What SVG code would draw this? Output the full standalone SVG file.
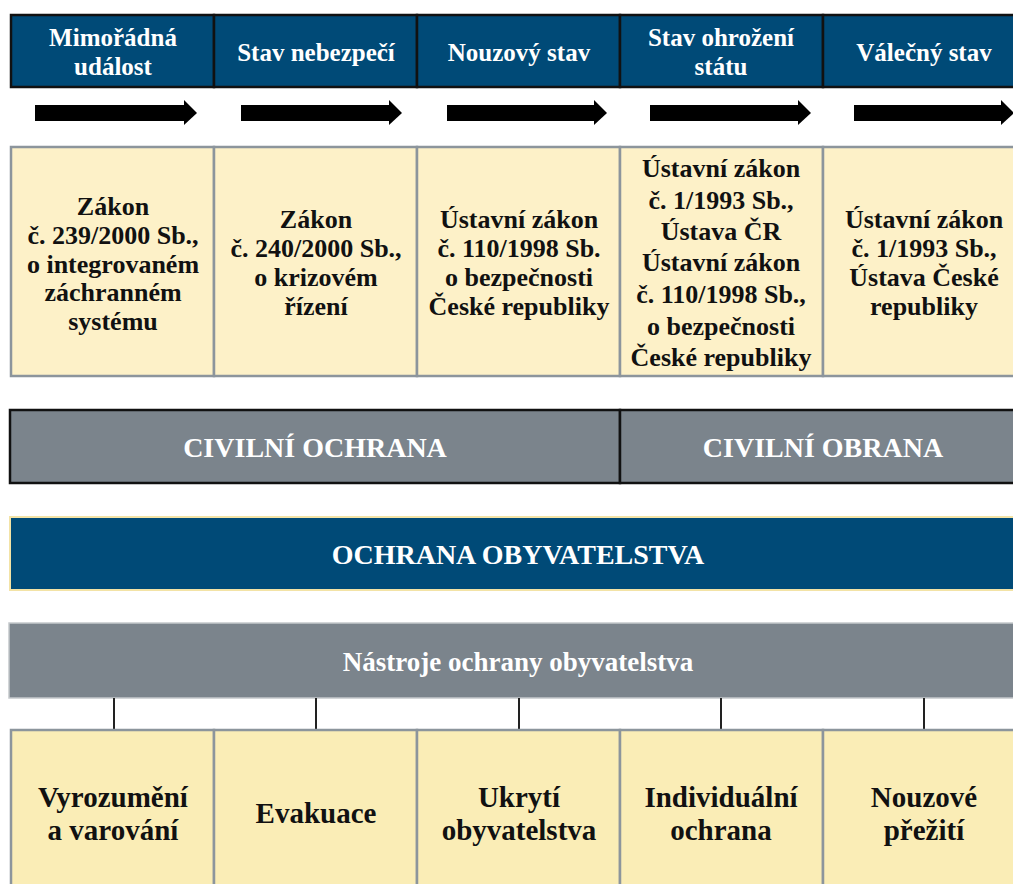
<svg xmlns="http://www.w3.org/2000/svg" width="1013" height="884" viewBox="0 0 1013 884">
<style>
  text { font-family: "Liberation Serif", "DejaVu Serif", serif; font-weight: bold; text-anchor: middle; }
  .hdr { fill: #004a77; stroke: #111; stroke-width: 2.5; }
  .hdrt { fill: #fff; font-size: 25px; }
  .law { fill: #fdf1c8; stroke: #8c959c; stroke-width: 2.5; }
  .lawt { fill: #111; font-size: 26px; }
  .civ { fill: #7b848c; stroke: #111; stroke-width: 2.5; }
  .bart { fill: #fff; font-size: 28px; }
  .ochr { fill: #004a77; stroke: #f3e3a6; stroke-width: 2; }
  .nas { fill: #7b848c; stroke: #c5c9cc; stroke-width: 1.5; }
  .nast { fill: #fff; font-size: 27px; }
  .tool { fill: #faedb6; stroke: #8c959c; stroke-width: 2.5; }
  .toolt { fill: #111; font-size: 29px; }
  .conn line { stroke: #222; stroke-width: 2; }
  .arrow { fill: #000; }
</style>

<g id="header">
  <g id="h1"><rect class="hdr" x="11" y="15" width="203" height="72"/><text class="hdrt" x="113" y="46">Mimořádná</text><text class="hdrt" x="113" y="75">událost</text></g>
  <g id="h2"><rect class="hdr" x="214" y="15" width="203" height="72"/><text class="hdrt" x="316" y="61">Stav nebezpečí</text></g>
  <g id="h3"><rect class="hdr" x="417" y="15" width="203" height="72"/><text class="hdrt" x="519" y="61">Nouzový stav</text></g>
  <g id="h4"><rect class="hdr" x="620" y="15" width="203" height="72"/><text class="hdrt" x="721" y="46">Stav ohrožení</text><text class="hdrt" x="721" y="75">státu</text></g>
  <g id="h5"><rect class="hdr" x="823" y="15" width="203" height="72"/><text class="hdrt" x="924" y="61">Válečný stav</text></g>
</g>

<g id="arrows">
  <g class="arrow" id="a1"><rect x="35" y="105" width="150" height="16"/><polygon points="184,100 197,113 184,125"/></g>
  <g class="arrow" id="a2"><rect x="241" y="105" width="149" height="16"/><polygon points="389,100 402,113 389,125"/></g>
  <g class="arrow" id="a3"><rect x="447" y="105" width="148" height="16"/><polygon points="594,100 607,113 594,125"/></g>
  <g class="arrow" id="a4"><rect x="650" y="105" width="149" height="16"/><polygon points="798,100 811,113 798,125"/></g>
  <g class="arrow" id="a5"><rect x="854" y="105" width="148" height="16"/><polygon points="1001,100 1014,113 1001,125"/></g>
</g>

<g id="laws">
  <g id="l1"><rect class="law" x="11" y="147" width="203" height="229"/>
    <text class="lawt" x="113"><tspan x="113" y="215">Zákon</tspan><tspan x="113" y="244">č. 239/2000 Sb.,</tspan><tspan x="113" y="273">o integrovaném</tspan><tspan x="113" y="301">záchranném</tspan><tspan x="113" y="330">systému</tspan></text></g>
  <g id="l2"><rect class="law" x="214" y="147" width="203" height="229"/>
    <text class="lawt" x="316"><tspan x="316" y="228">Zákon</tspan><tspan x="316" y="257">č. 240/2000 Sb.,</tspan><tspan x="316" y="286">o krizovém</tspan><tspan x="316" y="315">řízení</tspan></text></g>
  <g id="l3"><rect class="law" x="417" y="147" width="203" height="229"/>
    <text class="lawt" x="519"><tspan x="519" y="228">Ústavní zákon</tspan><tspan x="519" y="257">č. 110/1998 Sb.</tspan><tspan x="519" y="286">o bezpečnosti</tspan><tspan x="519" y="315">České republiky</tspan></text></g>
  <g id="l4"><rect class="law" x="620" y="147" width="203" height="229"/>
    <text class="lawt" x="721"><tspan x="721" y="177">Ústavní zákon</tspan><tspan x="721" y="209">č. 1/1993 Sb.,</tspan><tspan x="721" y="240">Ústava ČR</tspan><tspan x="721" y="271">Ústavní zákon</tspan><tspan x="721" y="303">č. 110/1998 Sb.,</tspan><tspan x="721" y="335">o bezpečnosti</tspan><tspan x="721" y="366">České republiky</tspan></text></g>
  <g id="l5"><rect class="law" x="823" y="147" width="203" height="229"/>
    <text class="lawt" x="924"><tspan x="924" y="228">Ústavní zákon</tspan><tspan x="924" y="257">č. 1/1993 Sb.,</tspan><tspan x="924" y="286">Ústava České</tspan><tspan x="924" y="315">republiky</tspan></text></g>
</g>

<g id="civilni-ochrana"><rect class="civ" x="10" y="410" width="610" height="73"/><text class="bart" x="315" y="457">CIVILNÍ OCHRANA</text></g>
<g id="civilni-obrana"><rect class="civ" x="620" y="410" width="410" height="73"/><text class="bart" x="823" y="457">CIVILNÍ OBRANA</text></g>

<g id="ochrana-obyvatelstva"><rect class="ochr" x="10" y="517" width="1010" height="73"/><text class="bart" x="518" y="564">OCHRANA OBYVATELSTVA</text></g>

<g id="nastroje"><rect class="nas" x="9" y="623" width="1010" height="75"/><text class="nast" x="518" y="671">Nástroje ochrany obyvatelstva</text></g>

<g class="conn" id="connectors">
  <line x1="114" y1="698" x2="114" y2="730"/>
  <line x1="316" y1="698" x2="316" y2="730"/>
  <line x1="519" y1="698" x2="519" y2="730"/>
  <line x1="721" y1="698" x2="721" y2="730"/>
  <line x1="924" y1="698" x2="924" y2="730"/>
</g>

<g id="tools">
  <g id="t1"><rect class="tool" x="11" y="730" width="203" height="170"/><text class="toolt"><tspan x="113" y="807">Vyrozumění</tspan><tspan x="113" y="840">a varování</tspan></text></g>
  <g id="t2"><rect class="tool" x="214" y="730" width="203" height="170"/><text class="toolt" x="316" y="823">Evakuace</text></g>
  <g id="t3"><rect class="tool" x="417" y="730" width="203" height="170"/><text class="toolt"><tspan x="519" y="807">Ukrytí</tspan><tspan x="519" y="840">obyvatelstva</tspan></text></g>
  <g id="t4"><rect class="tool" x="620" y="730" width="203" height="170"/><text class="toolt"><tspan x="721" y="807">Individuální</tspan><tspan x="721" y="840">ochrana</tspan></text></g>
  <g id="t5"><rect class="tool" x="823" y="730" width="203" height="170"/><text class="toolt"><tspan x="924" y="807">Nouzové</tspan><tspan x="924" y="840">přežití</tspan></text></g>
</g>
</svg>
